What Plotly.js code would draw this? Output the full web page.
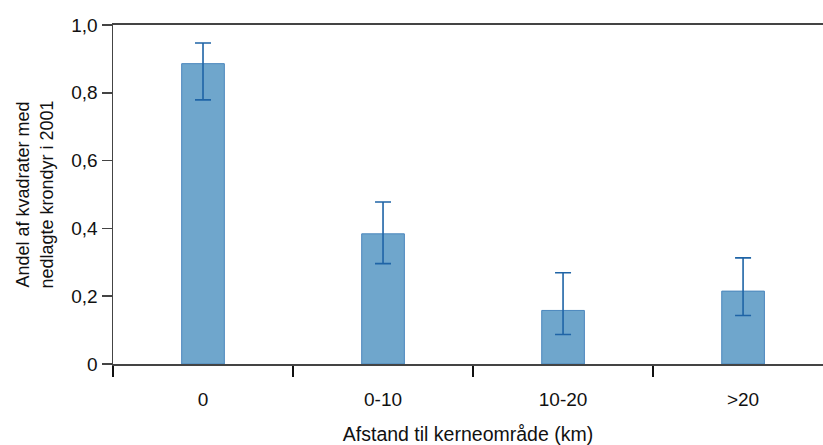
<!DOCTYPE html>
<html>
<head>
<meta charset="utf-8">
<script src="https://cdn.plot.ly/plotly-3.0.1.min.js"></script>
<style>html,body{margin:0;padding:0;background:#fff;}#chart{width:823px;height:445px;}</style>
</head>
<body>
<div id="chart"></div>
<script>
const categories = ["0", "0-10", "10-20", ">20"];
const values = [0.886, 0.384, 0.158, 0.215];
const errUpper = [0.947, 0.478, 0.269, 0.313];
const errLower = [0.779, 0.296, 0.087, 0.143];
const yTickVals = [0, 0.2, 0.4, 0.6, 0.8, 1.0];
const yTickText = ["0", "0,2", "0,4", "0,6", "0,8", "1,0"];

const plus = values.map((v, i) => errUpper[i] - v);
const minus = values.map((v, i) => v - errLower[i]);

const trace = {
  type: "bar",
  x: categories,
  y: values,
  width: 0.237,
  marker: {color: "#6fa6cc", line: {color: "#4a86bd", width: 1}},
  error_y: {type: "data", symmetric: false, array: plus, arrayminus: minus,
            color: "#1f64a6", thickness: 1.6, width: 8},
  hoverinfo: "none"
};

const font = "Liberation Sans, Arial, Helvetica, sans-serif";
const layout = {
  width: 823, height: 445,
  margin: {l: 113, r: 0, t: 25, b: 81, pad: 0},
  paper_bgcolor: "#fff", plot_bgcolor: "#fff",
  font: {family: font, size: 19, color: "#111"},
  showlegend: false,
  xaxis: {
    type: "category",
    range: [-0.5, 3.444],
    tickson: "boundaries",
    ticks: "outside", ticklen: 11, tickwidth: 1.5, tickcolor: "#111",
    ticklabelstandoff: 17,
    showline: true, linecolor: "#444", linewidth: 1.8,
    mirror: true,
    showgrid: false, zeroline: false,
    tickfont: {family: font, size: 19, color: "#111"},
    title: {text: "Afstand til kerneområde (km)", font: {family: font, size: 19.5, color: "#111"}, standoff: 21}
  },
  yaxis: {
    range: [0, 1.0],
    tickvals: yTickVals, ticktext: yTickText,
    ticks: "outside", ticklen: 10, tickwidth: 1.5, tickcolor: "#444",
    showline: true, linecolor: "#444", linewidth: 1.5,
    showgrid: false, zeroline: false,
    tickfont: {family: font, size: 19, color: "#111"},
    title: {text: "Andel af kvadrater med<br>nedlagte krondyr i 2001", font: {family: font, size: 18, color: "#111"}, standoff: 13}
  }
};

Plotly.newPlot("chart", [trace], layout, {displayModeBar: false, staticPlot: true});
</script>
</body>
</html>
